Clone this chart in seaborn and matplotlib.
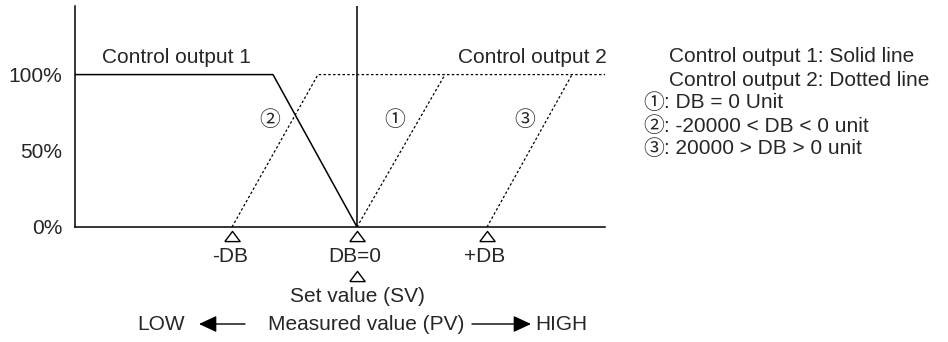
import numpy as np
import pandas as pd
import matplotlib
matplotlib.use("Agg")
import matplotlib.pyplot as plt
import matplotlib.transforms as mtransforms
import seaborn as sns

sns.set_theme(style="white")
plt.rcParams["font.family"] = ["Liberation Sans", "Noto Sans CJK JP", "DejaVu Sans"]

# PV axis in arbitrary units, set value (SV) at 0; output in %
PV_MIN, PV_MAX = -282, 248
OUT_MAX = 145

out1_pv = [-282, -84, 0]
out1_pct = [100, 100, 0]

# control output 2, three dead band cases
case1_pv = [0, 88]
case1_pct = [0, 100]
case2_pv = [-125, -39, 248]
case2_pct = [0, 100, 100]
case3_pv = [130, 215]
case3_pct = [0, 100]

db_pv = [-125, 0, 130]
db_labels = ["-DB", "DB=0", "+DB"]

case_marks = ["①", "②", "③"]
case_mark_pv = [38, -87, 168]
case_mark_pct = [70, 70, 70]

y_ticks = [0, 50, 100]
y_ticklabels = ["0%", "50%", "100%"]

legend_lines = ["Control output 1: Solid line", "Control output 2: Dotted line"]
case_texts = [": DB = 0 Unit", ": -20000 < DB < 0 unit", ": 20000 > DB > 0 unit"]

W, H = 948, 342
FS = 15
MARK_FS = 15

fig = plt.figure(figsize=(W / 100, H / 100), dpi=100)
ax = fig.add_axes([75 / W, (H - 227) / H, (605 - 75) / W, (227 - 6) / H])

sns.lineplot(x=out1_pv, y=out1_pct, ax=ax, color="black", lw=1.1, sort=False, estimator=None)
dots = (0, (2.0, 1.8))
for xs, ys in [(case1_pv, case1_pct), (case2_pv, case2_pct), (case3_pv, case3_pct)]:
    sns.lineplot(x=xs, y=ys, ax=ax, color="black", lw=0.9, linestyle=dots,
                 sort=False, estimator=None)
ax.axvline(0, color="black", lw=1.1)

ax.set_xlim(PV_MIN, PV_MAX)
ax.set_ylim(0, OUT_MAX)
ax.set_xticks([])
ax.set_yticks(y_ticks)
ax.set_yticklabels(y_ticklabels, fontsize=FS)
ax.tick_params(axis="y", length=0, pad=9)
for s in ["top", "right"]:
    ax.spines[s].set_visible(False)
for s in ["left", "bottom"]:
    ax.spines[s].set_color("black")
    ax.spines[s].set_linewidth(1.1)

ax.text(-181, 111, "Control output 1", fontsize=FS, ha="center", va="center")
ax.text(250, 111, "Control output 2", fontsize=FS, ha="right", va="center")
for m, x, y in zip(case_marks, case_mark_pv, case_mark_pct):
    ax.text(x, y, m, fontsize=MARK_FS, ha="center", va="center")

# things below the axis: x in data, y in figure pixels from top
tr = mtransforms.blended_transform_factory(ax.transData, fig.transFigure)
def py(y):
    return 1 - y / H

tri = [(-1.5, -1), (1.5, -1), (0, 1), (-1.5, -1)]
ax.plot(db_pv, [py(236)] * 3, transform=tr, linestyle="none", marker=tri,
        markersize=11, markerfacecolor="white", markeredgecolor="black",
        markeredgewidth=1.0, clip_on=False)
for x, lab in zip(db_pv, db_labels):
    ax.text(x - 2, py(256), lab, transform=tr, fontsize=FS, ha="center", va="center")
ax.plot([0], [py(276)], transform=tr, linestyle="none", marker=tri,
        markersize=11, markerfacecolor="white", markeredgecolor="black",
        markeredgewidth=1.0, clip_on=False)
ax.text(0, py(296), "Set value (SV)", transform=tr, fontsize=FS, ha="center", va="center")

fig.text(185 / W, py(324), "LOW", fontsize=FS, ha="right", va="center")
fig.text(366 / W, py(324), "Measured value (PV)", fontsize=FS, ha="center", va="center")
fig.text(535 / W, py(324), "HIGH", fontsize=FS, ha="left", va="center")
arrow = dict(arrowstyle="-|>,head_length=0.6,head_width=0.28", color="black",
             lw=1.0, mutation_scale=18, shrinkA=0, shrinkB=0)
fig.add_artist(matplotlib.patches.FancyArrowPatch((245 / W, py(324)), (199 / W, py(324)),
                                                  transform=fig.transFigure, **arrow))
fig.add_artist(matplotlib.patches.FancyArrowPatch((472 / W, py(324)), (531 / W, py(324)),
                                                  transform=fig.transFigure, **arrow))

# explanation at the right
for i, t in enumerate(legend_lines):
    fig.text(669 / W, py(57 + 23 * i), t, fontsize=FS, ha="left", va="center")
for i, (m, t) in enumerate(zip(case_marks, case_texts)):
    y = 103 + 23 * i
    fig.text(654 / W, py(y), m, fontsize=MARK_FS, ha="center", va="center")
    fig.text(664 / W, py(y), t, fontsize=FS, ha="left", va="center")

fig.savefig("out.png", dpi=100, facecolor="white")
